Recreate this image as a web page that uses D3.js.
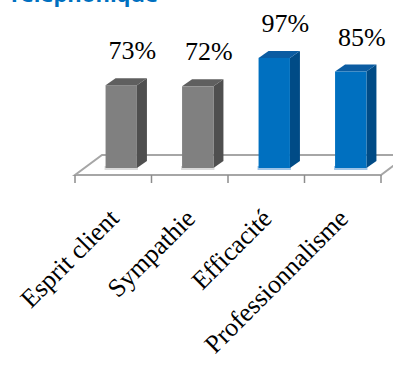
<!DOCTYPE html>
<html>
<head>
<meta charset="utf-8">
<script src="https://cdn.jsdelivr.net/npm/d3@7"></script>
<style>
  body { margin: 0; background: #fff; }
  svg { display: block; }
</style>
</head>
<body>
<svg id="chart" width="393" height="374"></svg>
<script>
// data
const categories = ["Esprit client", "Sympathie", "Efficacité", "Professionnalisme"];
const values = [73, 72, 97, 85];
const labels = ["73%", "72%", "97%", "85%"];
const groups = ["gray", "gray", "blue", "blue"];

const colors = {
  gray: { front: "#808080", side: "#4f4f4f", top: "#5f5f5f", glow: "#d9d9d9" },
  blue: { front: "#0070c0", side: "#004b86", top: "#0b5ca2", glow: "#9dc3e6" }
};

const serif = "'Liberation Serif', 'Times New Roman', serif";
const svg = d3.select("#chart");

const x = d3.scaleBand().domain(categories).range([75, 381]).padding(0);
const y = d3.scaleLinear().domain([0, 100]).range([168, 54.5]);

// 3d offsets
const floorY = 175, fdx = 27, fdy = -20;
const bdx = 10, bdy = -7;
const bw = x.bandwidth() * 0.41;
const shiftX = 8;

// title (cut at the top of the picture)
svg.append("text")
  .attr("x", 158).attr("y", 2)
  .attr("text-anchor", "end")
  .style("font-family", "'Open Sans', sans-serif")
  .style("font-weight", "bold")
  .style("font-size", "22px")
  .style("fill", "#0070c0")
  .text("Téléphonique");

// floor
const x0 = x.range()[0], x1 = x.range()[1];
svg.append("polygon")
  .attr("points", [[x0, floorY], [x1, floorY], [x1 + fdx, floorY + fdy], [x0 + fdx, floorY + fdy]].join(" "))
  .attr("fill", "#fff")
  .attr("stroke", "#a6a6a6")
  .attr("stroke-width", 2);

// ticks
const tickXs = categories.map(c => x(c)).concat([x1]);
svg.append("g").selectAll("line")
  .data(tickXs)
  .enter()
  .append("line")
  .attr("x1", d => d).attr("x2", d => d)
  .attr("y1", floorY).attr("y2", floorY + 8)
  .attr("stroke", "#8c8c8c")
  .attr("stroke-width", 1.5);

// bars
const bars = svg.append("g").selectAll("g")
  .data(categories)
  .enter()
  .append("g");

bars.each(function (c, i) {
  const g = d3.select(this);
  const col = colors[groups[i]];
  const left = x(c) + x.bandwidth() / 2 - bw / 2 + shiftX;
  const right = left + bw;
  const top = y(values[i]);
  const base = y(0);

  g.append("rect")
    .attr("x", left - 1).attr("y", base - 2)
    .attr("width", bw + 2).attr("height", 4)
    .attr("fill", col.glow);
  g.append("polygon")
    .attr("points", [[right, top], [right + bdx, top + bdy], [right + bdx, base + bdy], [right, base]].join(" "))
    .attr("fill", col.side);
  g.append("polygon")
    .attr("points", [[left, top], [left + bdx, top + bdy], [right + bdx, top + bdy], [right, top]].join(" "))
    .attr("fill", col.top);
  g.append("rect")
    .attr("x", left).attr("y", top)
    .attr("width", bw).attr("height", base - top)
    .attr("fill", col.front);

  g.append("text")
    .attr("x", left + bw / 2 + 11)
    .attr("y", top - 26)
    .attr("text-anchor", "middle")
    .style("font-family", serif)
    .style("font-size", "26px")
    .style("fill", "#000")
    .text(labels[i]);
});

// category labels
svg.append("g").selectAll("text")
  .data(categories)
  .enter()
  .append("text")
  .attr("transform", d => "translate(" + (x(d) + x.bandwidth() / 2 + 7) + "," + 220 + ") rotate(-45)")
  .attr("text-anchor", "end")
  .style("font-family", serif)
  .style("font-size", "26px")
  .style("fill", "#000")
  .text(d => d);
</script>
</body>
</html>
